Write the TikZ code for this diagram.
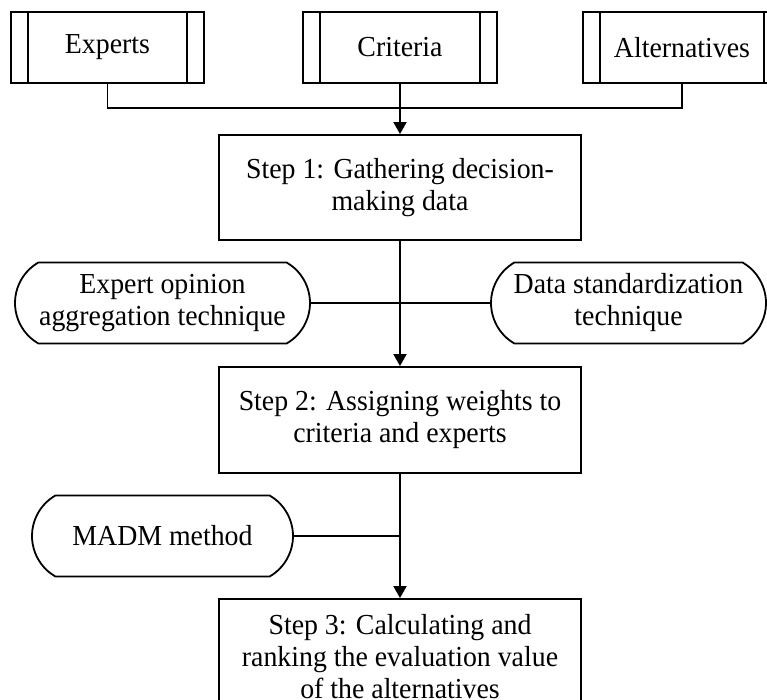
\documentclass[tikz,border=0pt]{standalone}
\usepackage{fontspec}
\setmainfont[FakeStretch=0.96]{Liberation Serif}
\usetikzlibrary{arrows.meta,shapes.misc}
\begin{document}
\begin{tikzpicture}[x=1pt,y=-1pt,
  every node/.style={font=\fontsize{29}{32}\selectfont, align=center, inner sep=0pt},
  line width=1.8pt,
  predef/.style={draw, rectangle, minimum height=71pt},
  stepbox/.style={draw, rectangle, minimum width=362pt},
  techbox/.style={draw, rounded rectangle, rounded rectangle arc length=120, minimum height=81pt},
  arr/.style={-{Triangle[length=12pt,width=13pt]}}]
\clip (0,0) rectangle (767,700);
% top predefined-process boxes
\node[predef, minimum width=193pt] (e) at (107.5,47.5) {Experts};
\node[predef, minimum width=194pt] (c) at (400,47.5) {Criteria};
\node[predef, minimum width=198pt] (a) at (682,47.5) {Alternatives};
\foreach \n in {e,c,a}{
  \draw ([xshift=18pt]\n.north west) -- ([xshift=18pt]\n.south west);
  \draw ([xshift=-18pt]\n.north east) -- ([xshift=-18pt]\n.south east);
}
% steps
\node[stepbox, minimum height=105pt] (s1) at (400,187.5) {Step 1: Gathering decision-\\making data};
\node[stepbox, minimum height=106pt] (s2) at (400,420) {Step 2: Assigning weights to\\criteria and experts};
\node[stepbox, minimum height=116pt] (s3) at (400,657) {Step 3: Calculating and\\ranking the evaluation value\\of the alternatives};
% technique boxes
\node[techbox, minimum width=295pt] (eo) at (162.5,303) {Expert opinion\\aggregation technique};
\node[techbox, minimum width=275pt] (ds) at (628.5,303) {Data standardization\\technique};
\node[techbox, minimum width=261pt] (m) at (162.5,536) {MADM method};
% connectors
\coordinate (j) at (400,108);
\draw (e.south) |- (j) -| (a.south);
\draw[arr] (c.south) -- (s1.north);
\draw[arr] (s1.south) -- (s2.north);
\draw (eo.east) -- (eo.east -| ds.west);
\draw[arr] (s2.south) -- (s3.north);
\draw (m.east) -- (m.east -| s2.south);
\end{tikzpicture}
\end{document}
